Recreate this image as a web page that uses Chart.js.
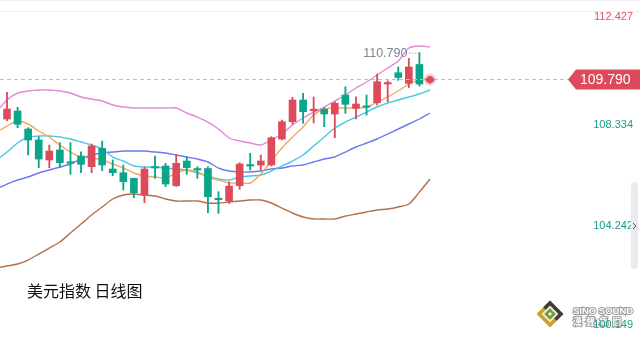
<!DOCTYPE html>
<html>
<head>
<meta charset="utf-8">
<script src="https://cdn.jsdelivr.net/npm/chart.js@4.4.1/dist/chart.umd.min.js"></script>
<style>
  html, body { margin: 0; padding: 0; background: #fff; }
  #wrap { position: relative; width: 640px; height: 338px; }
</style>
</head>
<body>
<div id="wrap"><canvas id="chart" width="640" height="338"></canvas></div>
<script>
// Daily candles, index 1..41 (index 0 only carries indicator values at the left edge)
const candleIdx = [1,2,3,4,5,6,7,8,9,10,11,12,13,14,15,16,17,18,19,20,21,22,23,24,25,26,27,28,29,30,31,32,33,34,35,36,37,38,39,40,41];
const openV  = [108.244,108.551,107.861,107.439,106.671,107.055,106.606,106.825,106.414,107.120,106.326,106.184,105.969,105.328,106.402,106.441,105.685,106.633,106.326,106.345,105.201,105.098,105.685,106.479,106.479,106.479,107.477,108.141,108.973,108.563,108.617,108.436,109.165,108.655,108.743,108.870,109.587,110.021,109.614,110.336,109.683];
const highV  = [109.269,108.693,107.910,107.565,107.247,107.335,107.335,106.990,107.285,107.400,106.671,106.479,105.980,106.400,106.825,106.544,106.890,106.775,106.414,106.414,105.455,105.838,106.567,106.928,106.863,107.565,108.206,109.077,109.231,109.089,108.678,108.908,109.484,109.100,109.165,109.971,109.714,110.240,110.574,110.790,109.820];
const lowV   = [108.179,107.910,106.863,106.376,106.376,106.391,106.122,106.184,106.184,106.260,106.069,105.520,105.224,105.033,105.969,105.646,105.654,106.122,105.969,104.649,104.626,105.009,105.547,106.287,106.287,106.440,107.439,108.052,108.079,108.091,107.949,107.527,108.463,108.244,108.398,108.782,108.908,109.729,109.453,109.511,109.614];
const closeV = [108.628,108.041,107.439,106.709,107.016,106.567,106.544,106.506,107.208,106.479,106.184,105.838,105.416,106.326,106.364,105.750,106.544,106.376,106.287,105.263,105.148,105.673,106.518,106.441,106.633,107.527,108.141,108.973,108.524,108.620,108.436,108.847,108.808,108.820,108.693,109.676,109.637,109.837,110.240,109.587,109.790];

// Indicator lines, index 0..41
const bollUpper = [108.513,108.974,109.242,109.319,109.357,109.357,109.319,109.242,109.089,109.012,108.935,108.782,108.705,108.667,108.667,108.667,108.667,108.667,108.475,108.321,108.129,107.861,107.516,107.400,107.324,107.247,107.439,107.669,108.014,108.283,108.513,108.705,108.935,109.166,109.434,109.664,109.933,110.202,110.470,110.969,111.046,111.007];
const ma5       = [107.746,107.976,108.168,108.053,107.784,107.554,107.247,106.978,106.786,106.748,106.671,106.518,106.364,106.172,106.057,106.019,105.981,106.172,106.288,106.211,106.019,105.904,105.789,105.789,105.789,106.134,106.633,107.132,107.554,107.938,108.398,108.628,108.667,108.667,108.667,108.705,108.897,109.089,109.319,109.588,109.741,109.780];
const ma10      = [106.671,106.978,107.324,107.554,107.592,107.592,107.554,107.477,107.362,107.247,107.093,106.786,106.633,106.441,106.403,106.403,106.364,106.326,106.288,106.172,106.057,105.942,105.904,106.019,106.057,106.096,106.249,106.441,106.633,106.863,107.209,107.554,107.899,108.129,108.321,108.513,108.705,108.859,108.974,109.089,109.204,109.357];
const ma20      = [105.558,105.750,105.904,106.019,106.172,106.288,106.403,106.518,106.710,106.863,106.940,106.978,107.017,107.017,107.017,106.978,106.940,106.863,106.786,106.710,106.595,106.364,106.249,106.211,106.211,106.249,106.326,106.364,106.441,106.479,106.595,106.710,106.786,106.978,107.170,107.324,107.477,107.669,107.861,108.053,108.245,108.475];
const bollLower = [102.527,102.604,102.681,102.834,103.064,103.294,103.525,103.870,104.215,104.561,104.868,105.175,105.328,105.367,105.328,105.290,105.175,105.098,105.098,105.098,105.021,105.021,105.060,105.098,105.136,105.136,105.021,104.829,104.638,104.484,104.407,104.407,104.407,104.522,104.599,104.676,104.753,104.791,104.868,104.983,105.443,105.942];

// Right axis tick labels and marks
const axisTicks = [112.427, 108.334, 104.242, 100.149];
const lastPrice = 109.790;
const highMark = { idx: 40, value: 110.790 };
const chartTitle = '美元指数 日线图';

const UP = '#dd4b5b', DOWN = '#0ba58a';
const candleColor = candleIdx.map((_, i) => closeV[i] >= openV[i] ? UP : DOWN);

const lineSet = (data, color, order) => ({
  type: 'line',
  data: data.map((v, i) => ({ x: i, y: v })),
  borderColor: color,
  borderWidth: 1.4,
  pointRadius: 0,
  tension: 0.25,
  fill: false,
  order
});

const overlay = {
  id: 'overlay',
  afterDatasetsDraw(chart) {
    const { ctx } = chart;
    const xs = chart.scales.x, ys = chart.scales.y;
    ctx.save();

    // top border lines
    ctx.strokeStyle = '#eceef2';
    ctx.lineWidth = 1;
    ctx.beginPath();
    ctx.moveTo(0, 0.5); ctx.lineTo(640, 0.5);
    ctx.moveTo(0, 11.5); ctx.lineTo(640, 11.5);
    ctx.stroke();

    // last price dashed line
    const py = Math.round(ys.getPixelForValue(lastPrice)) + 0.5;
    ctx.strokeStyle = '#f0a9b1';
    ctx.setLineDash([4, 3]);
    ctx.beginPath(); ctx.moveTo(0, py); ctx.lineTo(570, py); ctx.stroke();
    ctx.setLineDash([]);

    // glowing dot on last candle
    const lx = xs.getPixelForValue(candleIdx[candleIdx.length - 1]);
    ctx.fillStyle = 'rgba(221,75,91,0.25)';
    ctx.beginPath(); ctx.arc(lx, py, 6, 0, Math.PI * 2); ctx.fill();
    ctx.fillStyle = UP;
    ctx.beginPath(); ctx.arc(lx, py, 3.5, 0, Math.PI * 2); ctx.fill();

    // price tag
    ctx.fillStyle = UP;
    ctx.beginPath();
    ctx.moveTo(568, py);
    ctx.lineTo(576, py - 10);
    ctx.lineTo(640, py - 10);
    ctx.lineTo(640, py + 10);
    ctx.lineTo(576, py + 10);
    ctx.closePath();
    ctx.fill();
    ctx.fillStyle = '#fff';
    ctx.font = '14px "Liberation Sans", Arial, sans-serif';
    ctx.textAlign = 'left';
    ctx.textBaseline = 'middle';
    ctx.fillText(lastPrice.toFixed(3), 580, py + 1);

    // high label with dotted leader
    const hx = xs.getPixelForValue(highMark.idx);
    const hy = ys.getPixelForValue(highMark.value);
    ctx.fillStyle = '#80848e';
    ctx.font = '12.5px "Liberation Sans", Arial, sans-serif';
    ctx.textAlign = 'right';
    ctx.fillText(highMark.value.toFixed(3), hx - 12, hy + 1);
    ctx.strokeStyle = '#80848e';
    ctx.setLineDash([1, 2]);
    ctx.beginPath(); ctx.moveTo(hx - 10, hy + 0.5); ctx.lineTo(hx, hy + 0.5); ctx.stroke();
    ctx.setLineDash([]);

    // right axis labels (last one drawn after the logo)
    ctx.font = '11px "Liberation Sans", Arial, sans-serif';
    ctx.textAlign = 'right';
    const offs = [7, 8, 3, -5];
    axisTicks.slice(0, 3).forEach((v, i) => {
      ctx.fillStyle = i === 0 ? '#e0525f' : '#17a085';
      ctx.fillText(v.toFixed(3), 633, ys.getPixelForValue(v) + offs[i]);
    });

    // scrollbar
    ctx.fillStyle = '#e9eaef';
    ctx.beginPath();
    ctx.roundRect(631, 182, 7, 87, 3.5);
    ctx.fill();
    ctx.strokeStyle = '#555';
    ctx.lineWidth = 1;
    ctx.beginPath(); ctx.moveTo(633, 223); ctx.lineTo(636, 226); ctx.lineTo(633, 229); ctx.stroke();

    // title
    ctx.fillStyle = '#111';
    ctx.font = '16px "Noto Sans CJK SC", sans-serif';
    ctx.textAlign = 'left';
    ctx.fillText(chartTitle, 27, 291);

    // watermark logo
    ctx.save();
    ctx.translate(550, 314);
    ctx.rotate(Math.PI / 4);
    ctx.fillStyle = '#c9a227'; ctx.fillRect(-9.5, -9.5, 19, 19);
    ctx.fillStyle = '#3b3b3b'; ctx.fillRect(-9.5, -9.5, 19, 9.5);
    ctx.fillStyle = '#eee9d2'; ctx.fillRect(-6, -6, 12, 12);
    ctx.fillStyle = '#6e9e3c'; ctx.fillRect(-4, -4, 8, 8);
    ctx.fillStyle = '#f3f0da'; ctx.fillRect(-1.5, -1.5, 3, 3);
    ctx.restore();
    ctx.font = 'bold 9.5px "Liberation Sans", Arial, sans-serif';
    ctx.textAlign = 'left';
    ctx.lineWidth = 2;
    ctx.strokeStyle = '#9a9a9a';
    ctx.strokeText('SINO SOUND', 573, 311);
    ctx.fillStyle = '#fff';
    ctx.fillText('SINO SOUND', 573, 311);
    ctx.font = 'bold 9px "Noto Sans CJK TC", sans-serif';
    ctx.strokeText('漢  聲  集  團', 573, 322);
    ctx.fillText('漢  聲  集  團', 573, 322);
    ctx.font = '11px "Liberation Sans", Arial, sans-serif';
    ctx.textAlign = 'right';
    ctx.fillStyle = '#17a085';
    ctx.fillText(axisTicks[3].toFixed(3), 633, ys.getPixelForValue(axisTicks[3]) + offs[3]);

    ctx.restore();
  }
};

new Chart(document.getElementById('chart'), {
  type: 'bar',
  data: {
    datasets: [
      {
        data: candleIdx.map((x, i) => ({ x, y: [Math.min(openV[i], closeV[i]), Math.max(openV[i], closeV[i])] })),
        backgroundColor: candleColor,
        barThickness: 7,
        minBarLength: 1.5,
        grouped: false,
        order: 0
      },
      {
        data: candleIdx.map((x, i) => ({ x, y: [lowV[i], highV[i]] })),
        backgroundColor: candleColor,
        barThickness: 1.2,
        grouped: false,
        order: 1
      },
      lineSet(bollUpper, '#e08ad8', 2),
      lineSet(ma5, '#f7a65c', 3),
      lineSet(ma10, '#45c9e2', 4),
      lineSet(ma20, '#6f78f2', 5),
      lineSet(bollLower, '#b3714a', 6)
    ]
  },
  options: {
    responsive: false,
    animation: false,
    events: [],
    layout: { padding: 0 },
    plugins: { legend: { display: false }, tooltip: { enabled: false } },
    scales: {
      x: { type: 'linear', display: false, offset: false, min: 0.338, max: 60.86 },
      y: { type: 'linear', display: false, min: 99.842, max: 112.811 }
    }
  },
  plugins: [overlay]
});
</script>
</body>
</html>
